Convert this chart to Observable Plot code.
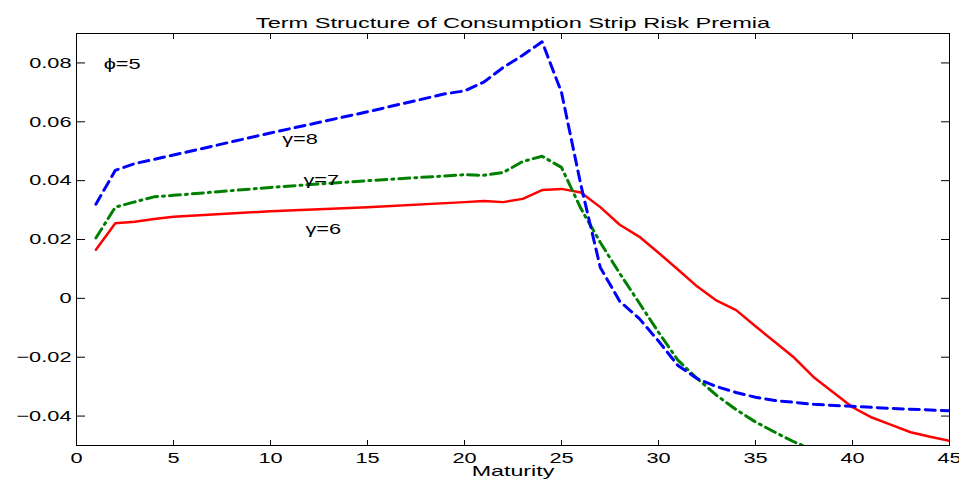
<!DOCTYPE html>
<html><head><meta charset="utf-8">
<script src="https://cdn.jsdelivr.net/npm/d3@7"></script>
<script src="https://cdn.jsdelivr.net/npm/@observablehq/plot@0.6"></script>
<style>body{margin:0;background:#fff} #chart svg{font-family:"Liberation Sans",Arial,sans-serif;color:#000}</style>
</head><body><div id="chart"></div>
<script>
const title = "Term Structure of Consumption Strip Risk Premia";
const xLabel = "Maturity";
const xTicks = [0, 5, 10, 15, 20, 25, 30, 35, 40, 45];
const yTicks = [-0.04, -0.02, 0, 0.02, 0.04, 0.06, 0.08];

// gamma = 8 (blue dashed)
const matG8 = [1, 2, 3, 5, 10, 15, 19, 20, 21, 22, 23, 24, 25, 26, 27, 28, 29, 30, 31, 32, 33, 34, 35, 36, 38, 40, 42, 45];
const valG8 = [0.032, 0.0435, 0.0458, 0.0487, 0.0562, 0.0634, 0.0695, 0.0705, 0.0735, 0.0785, 0.0826, 0.0872, 0.0700, 0.0385, 0.0105, -0.001, -0.0068, -0.0145, -0.0228, -0.0273, -0.0300, -0.0320, -0.0336, -0.0347, -0.0360, -0.0367, -0.0374, -0.0382];

// gamma = 7 (green dash-dot)
const matG7 = [1, 2, 3, 4, 5, 10, 15, 20, 21, 22, 23, 24, 25, 26, 27, 28, 29, 30, 31, 32, 33, 34, 35, 36, 37, 38];
const valG7 = [0.0205, 0.031, 0.0328, 0.0345, 0.035, 0.0377, 0.0400, 0.0420, 0.0418, 0.0428, 0.0465, 0.0483, 0.0445, 0.0305, 0.019, 0.0085, -0.0015, -0.0115, -0.021, -0.0273, -0.0330, -0.0378, -0.0420, -0.0455, -0.0488, -0.0515];

// gamma = 6 (red solid)
const matG6 = [1, 2, 3, 4, 5, 10, 15, 20, 21, 22, 23, 24, 25, 26, 27, 28, 29, 30, 31, 32, 33, 34, 35, 36, 37, 38, 39, 40, 41, 42, 43, 44, 45];
const valG6 = [0.0165, 0.0255, 0.026, 0.027, 0.0277, 0.0296, 0.0310, 0.0327, 0.0331, 0.0327, 0.0338, 0.0368, 0.0372, 0.0360, 0.0310, 0.0250, 0.0210, 0.0155, 0.0098, 0.0040, -0.0008, -0.0040, -0.0095, -0.0148, -0.0202, -0.0268, -0.0319, -0.0370, -0.0405, -0.0430, -0.0455, -0.0470, -0.0484];

const annText = ["ϕ=5", "γ=8", "γ=7", "γ=6"];
const annX = [1.4, 10.6, 11.7, 11.8];
const annY = [0.0795, 0.0541, 0.0401, 0.0234];

const g8 = matG8.map((m, i) => ({m, v: valG8[i]}));
const g7 = matG7.map((m, i) => ({m, v: valG7[i]}));
const g6 = matG6.map((m, i) => ({m, v: valG6[i]}));
const ann = annText.map((t, i) => ({t, x: annX[i], y: annY[i]}));

const fmtY = d => d === 0 ? "0" : d3.format(".2f")(d);

const chart = Plot.plot({
  width: 959, height: 479,
  marginTop: 33, marginBottom: 34, marginLeft: 76, marginRight: 10,
  style: {fontSize: "15px", background: "#fff"},
  x: {domain: [0, 45]},
  y: {domain: [-0.05, 0.09]},
  marks: [
    Plot.line(g6, {x: "m", y: "v", stroke: "#ff0000", strokeWidth: 2.5, clip: true}),
    Plot.line(g7, {x: "m", y: "v", stroke: "#008000", strokeWidth: 3, strokeDasharray: "11,5,2,5", clip: true}),
    Plot.line(g8, {x: "m", y: "v", stroke: "#0000ff", strokeWidth: 3, strokeDasharray: "10,6", clip: true}),
    Plot.frame({stroke: "#000", strokeWidth: 1}),
    Plot.axisX({anchor: "bottom", ticks: xTicks, tickSize: -5, tickPadding: 12, label: null, tickFormat: d => String(d), fontSize: 15}),
    Plot.axisX({anchor: "top", ticks: xTicks, tickSize: -5, label: null, tickFormat: () => ""}),
    Plot.axisY({anchor: "left", ticks: yTicks, tickSize: -9, tickPadding: 14, label: null, tickFormat: fmtY, fontSize: 15}),
    Plot.axisY({anchor: "right", ticks: yTicks, tickSize: -9, label: null, tickFormat: () => ""}),
    Plot.text(ann, {x: "x", y: "y", text: "t", textAnchor: "start", fontSize: 15, fill: "#000"}),
    Plot.text([title], {frameAnchor: "top", dy: -16, fontSize: 15, fill: "#000", className: "ttl"}),
    Plot.text([xLabel], {frameAnchor: "bottom", dy: 30, fontSize: 15, fill: "#000", className: "xlab"})
  ]
});
document.getElementById("chart").appendChild(chart);
// horizontal stretch of glyphs, as in the reference rendering
chart.querySelectorAll("text").forEach(t => {
  const L = t.getComputedTextLength();
  if (L > 0) {
    const inTitle = t.closest(".ttl");
    const inLab = t.closest(".xlab");
    const k = inTitle ? 1.57 : inLab ? 1.55 : 1.45;
    t.setAttribute("textLength", (L * k).toFixed(1));
    t.setAttribute("lengthAdjust", "spacingAndGlyphs");
  }
});
</script></body></html>
